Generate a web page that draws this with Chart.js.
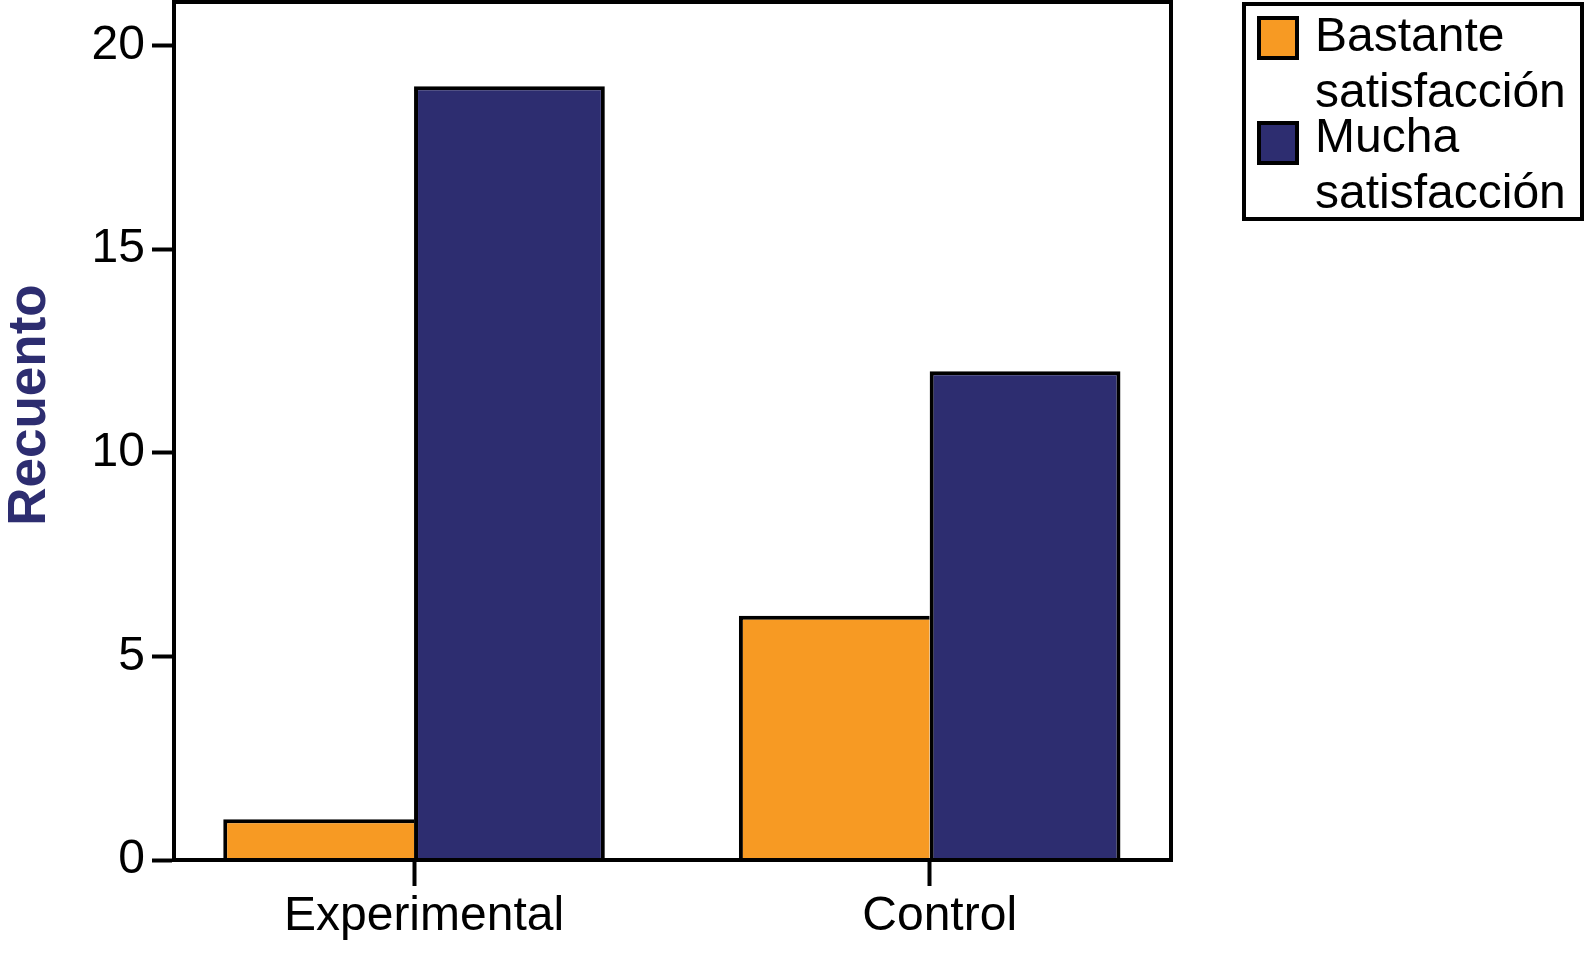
<!DOCTYPE html>
<html>
<head>
<meta charset="utf-8">
<script src="https://cdn.jsdelivr.net/npm/chart.js@4"></script>
<style>
  body { margin: 0; background: #fff; }
  #caja { position: relative; width: 1586px; height: 955px; }
</style>
</head>
<body>
<div id="caja"><canvas id="grafica"></canvas></div>
<script>
// datos
const grupos = ['Experimental', 'Control'];
const posiciones = [0, 1];
const bastante = [1, 6];
const mucha = [19, 12];
const ticksY = [0, 5, 10, 15, 20];
const tituloY = 'Recuento';
const leyenda = [
    { lineas: ['Bastante', 'satisfacción'], color: '#F79A23' },
    { lineas: ['Mucha', 'satisfacción'], color: '#2D2D70' }
];

const FUENTE = '"Liberation Sans", Arial, Helvetica, sans-serif';
const GROSOR = 4;

// marco, título del eje Y y leyenda dibujados a mano
const marcoYLeyenda = {
    id: 'marcoYLeyenda',
    afterDraw(chart) {
        const ctx = chart.ctx;
        const a = chart.chartArea;
        ctx.save();
        ctx.strokeStyle = '#000';
        ctx.lineWidth = GROSOR;
        ctx.strokeRect(a.left, a.top, a.right - a.left, a.bottom - a.top);

        // título Y
        ctx.save();
        ctx.translate(30, 405);
        ctx.rotate(-Math.PI / 2);
        ctx.font = 'bold 53px ' + FUENTE;
        ctx.fillStyle = '#2D2D70';
        ctx.textAlign = 'center';
        ctx.textBaseline = 'middle';
        ctx.fillText(tituloY, 0, 0);
        ctx.restore();

        // leyenda
        ctx.strokeRect(1244, 4, 338, 215);
        ctx.font = '48px ' + FUENTE;
        ctx.textBaseline = 'middle';
        const centros = [[38, 94], [139, 195]];
        leyenda.forEach((item, i) => {
            const y0 = i === 0 ? 18 : 123;
            ctx.fillStyle = item.color;
            ctx.fillRect(1259, y0, 38, 40);
            ctx.strokeRect(1259, y0, 38, 40);
            ctx.fillStyle = '#000';
            item.lineas.forEach((t, j) => {
                ctx.fillText(t, 1315, centros[i][j]);
            });
        });
        ctx.restore();
    }
};

// sin relleno extra de las etiquetas de los extremos
function sinRelleno(s) {
    s.paddingTop = 0; s.paddingBottom = 0;
    s.paddingLeft = 0; s.paddingRight = 0;
}

new Chart(document.getElementById('grafica'), {
    type: 'bar',
    data: {
        datasets: [
            {
                label: leyenda[0].lineas.join(' '),
                data: posiciones.map((x, i) => ({ x: x, y: bastante[i] })),
                backgroundColor: leyenda[0].color,
                borderColor: '#000',
                borderSkipped: false,
                borderWidth: { top: GROSOR, left: GROSOR, right: 0, bottom: 0 }
            },
            {
                label: leyenda[1].lineas.join(' '),
                data: posiciones.map((x, i) => ({ x: x, y: mucha[i] })),
                backgroundColor: leyenda[1].color,
                borderColor: '#000',
                borderSkipped: false,
                borderWidth: { top: GROSOR, left: GROSOR, right: GROSOR, bottom: 0 }
            }
        ]
    },
    options: {
        responsive: true,
        maintainAspectRatio: false,
        animation: false,
        categoryPercentage: 0.74,
        barPercentage: 1,
        layout: { padding: { left: 0, top: 2, right: 415, bottom: 0 } },
        plugins: {
            legend: { display: false },
            tooltip: { enabled: false }
        },
        scales: {
            x: {
                type: 'linear',
                offset: false,
                min: -0.4655,
                max: 1.468,
                afterBuildTicks: s => { s.ticks = posiciones.map(v => ({ value: v })); },
                afterFit: s => { s.height = 95; sinRelleno(s); },
                ticks: {
                    callback: v => grupos[v],
                    font: { size: 48, family: FUENTE },
                    color: '#000',
                    padding: 2,
                    labelOffset: 10,
                    maxRotation: 0,
                    autoSkip: false
                },
                grid: { offset: false, drawOnChartArea: false, tickLength: 26, tickColor: '#000', tickWidth: GROSOR },
                border: { display: true, color: '#000', width: GROSOR }
            },
            y: {
                min: 0,
                max: 21.07,
                afterBuildTicks: s => { s.ticks = ticksY.map(v => ({ value: v })); },
                afterFit: s => { s.width = 174; sinRelleno(s); },
                ticks: {
                    font: { size: 48, family: FUENTE },
                    color: '#000',
                    padding: 7
                },
                grid: { drawOnChartArea: false, tickLength: 22, tickColor: '#000', tickWidth: GROSOR },
                border: { display: true, color: '#000', width: GROSOR }
            }
        }
    },
    plugins: [marcoYLeyenda]
});
</script>
</body>
</html>
